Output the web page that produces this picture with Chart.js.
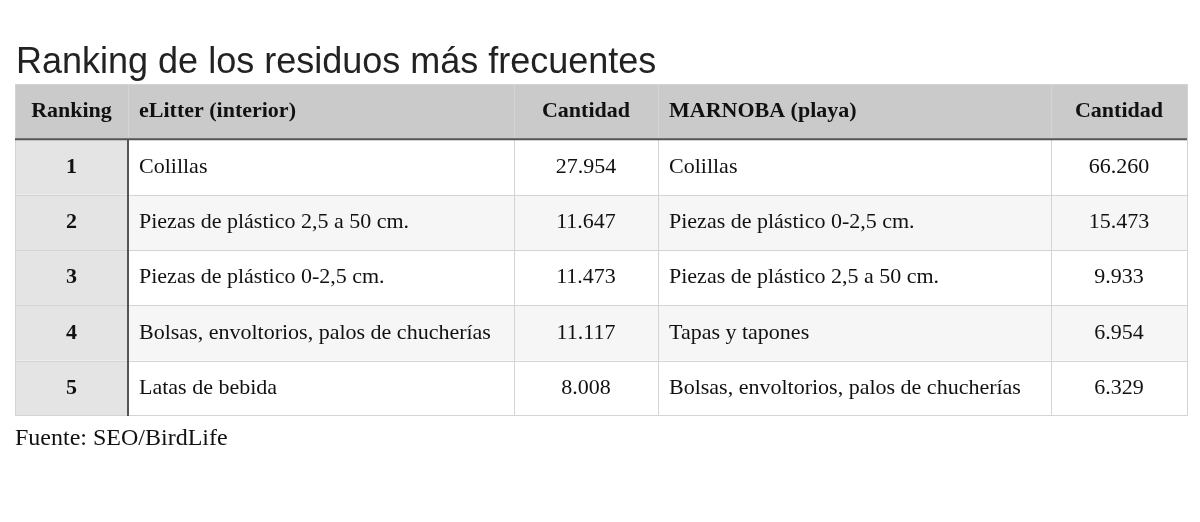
<!DOCTYPE html>
<html lang="es">
<head>
<meta charset="UTF-8">
<title>Ranking de los residuos</title>
<script src="https://cdn.jsdelivr.net/npm/chart.js"></script>
<style>
  html, body { margin: 0; padding: 0; background: #fff; }
  #wrap { width: 1200px; height: 522px; }
</style>
</head>
<body>
<div id="wrap"><canvas id="tabla"></canvas></div>
<script>
// datos de la tabla
const headers = ['Ranking', 'eLitter (interior)', 'Cantidad', 'MARNOBA (playa)', 'Cantidad'];
const ranking = ['1', '2', '3', '4', '5'];
const elitterItems = ['Colillas', 'Piezas de plástico 2,5 a 50 cm.', 'Piezas de plástico 0-2,5 cm.', 'Bolsas, envoltorios, palos de chucherías', 'Latas de bebida'];
const elitterCounts = ['27.954', '11.647', '11.473', '11.117', '8.008'];
const marnobaItems = ['Colillas', 'Piezas de plástico 0-2,5 cm.', 'Piezas de plástico 2,5 a 50 cm.', 'Tapas y tapones', 'Bolsas, envoltorios, palos de chucherías'];
const marnobaCounts = ['66.260', '15.473', '9.933', '6.954', '6.329'];

const title = 'Ranking de los residuos más frecuentes';
const source = 'Fuente: SEO/BirdLife';

// bordes de columna (en unidades de la escala x) y alineación
const colEdges = [0, 113, 499, 643, 1036, 1172];
const colAlign = ['center', 'left', 'center', 'left', 'center'];
const columns = [ranking, elitterItems, elitterCounts, marnobaItems, marnobaCounts];

const serif = '"Liberation Serif", "Times New Roman", serif';

const tablePlugin = {
  id: 'tablePlugin',
  afterDraw(chart) {
    const { ctx, chartArea: a } = chart;
    const x = chart.scales.x, y = chart.scales.y;
    const rowH = (a.bottom - a.top) / y.getLabels().length;
    const px = v => x.getPixelForValue(v);
    ctx.save();

    // fondos
    y.getLabels().forEach((lab, r) => {
      const top = y.getPixelForValue(r) - rowH / 2;
      ctx.fillStyle = r === 0 ? '#c9cac9' : (r % 2 === 0 ? '#f6f6f6' : '#ffffff');
      ctx.fillRect(a.left, top, a.right - a.left, rowH);
      if (r > 0) {
        ctx.fillStyle = '#e4e4e4';
        ctx.fillRect(px(colEdges[0]), top, px(colEdges[1]) - px(colEdges[0]), rowH);
      }
    });

    // líneas finas
    ctx.strokeStyle = '#d4d4d4';
    ctx.lineWidth = 1;
    y.getLabels().forEach((lab, r) => {
      const top = Math.round(y.getPixelForValue(r) - rowH / 2) + 0.5;
      ctx.beginPath(); ctx.moveTo(a.left, top); ctx.lineTo(a.right, top); ctx.stroke();
    });
    ctx.beginPath(); ctx.moveTo(a.left, a.bottom - 0.5); ctx.lineTo(a.right, a.bottom - 0.5); ctx.stroke();
    colEdges.forEach(e => {
      const xx = Math.round(px(e)) + 0.5;
      ctx.beginPath(); ctx.moveTo(xx, a.top); ctx.lineTo(xx, a.bottom); ctx.stroke();
    });

    // líneas gruesas
    const headBottom = y.getPixelForValue(0) + rowH / 2;
    ctx.strokeStyle = '#555';
    ctx.lineWidth = 2;
    ctx.beginPath(); ctx.moveTo(a.left, headBottom); ctx.lineTo(a.right, headBottom); ctx.stroke();
    ctx.beginPath(); ctx.moveTo(px(colEdges[1]), headBottom); ctx.lineTo(px(colEdges[1]), a.bottom); ctx.stroke();

    // textos
    ctx.fillStyle = '#111';
    ctx.textBaseline = 'middle';
    const cellText = (txt, c, cy, bold) => {
      ctx.font = (bold ? 'bold ' : '') + '22px ' + serif;
      const l = px(colEdges[c]), rr = px(colEdges[c + 1]);
      if (colAlign[c] === 'center') { ctx.textAlign = 'center'; ctx.fillText(txt, (l + rr) / 2, cy); }
      else { ctx.textAlign = 'left'; ctx.fillText(txt, l + 11, cy); }
    };
    headers.forEach((h, c) => cellText(h, c, y.getPixelForValue(0), true));
    columns.forEach((col, c) => col.forEach((v, r) => cellText(v, c, y.getPixelForValue(r + 1), c === 0)));

    ctx.textAlign = 'left';
    ctx.textBaseline = 'alphabetic';
    ctx.font = '36px "Liberation Sans", Arial, sans-serif';
    ctx.fillStyle = '#222';
    ctx.fillText(title, a.left + 1, 73);
    ctx.fillStyle = '#111';
    ctx.font = '24px ' + serif;
    ctx.fillText(source, a.left, a.bottom + 29);
    ctx.restore();
  }
};

new Chart(document.getElementById('tabla'), {
  type: 'bar',
  data: { labels: ['cabecera'].concat(ranking), datasets: [] },
  options: {
    responsive: true,
    maintainAspectRatio: false,
    animation: false,
    layout: { padding: { left: 15, right: 13, top: 84, bottom: 106 } },
    plugins: { legend: { display: false }, tooltip: { enabled: false } },
    scales: {
      x: { type: 'linear', offset: false, min: colEdges[0], max: colEdges[colEdges.length - 1], display: false },
      y: { type: 'category', offset: true, display: false }
    }
  },
  plugins: [tablePlugin]
});
</script>
</body>
</html>
